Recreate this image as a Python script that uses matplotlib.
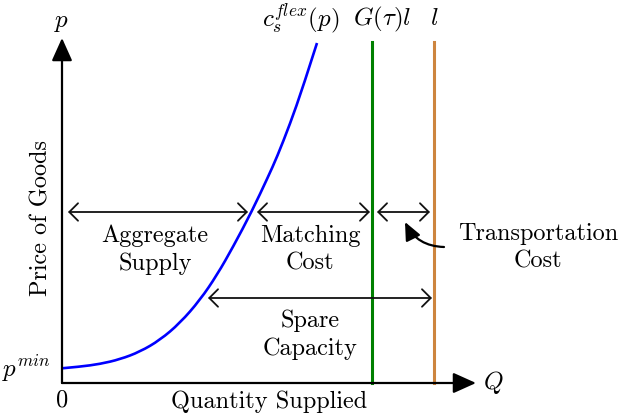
import matplotlib
matplotlib.use("Agg")
import matplotlib.pyplot as plt
from matplotlib.path import Path
from matplotlib.patches import PathPatch

plt.rcParams["font.family"] = "serif"
plt.rcParams["font.serif"] = ["cmr10"]
plt.rcParams["mathtext.fontset"] = "cm"
plt.rcParams["axes.unicode_minus"] = False

# supply curve c_s^flex(p): quantity vs price (diagram units)
supply_q = [0, 18, 38, 58, 78, 98, 118, 138, 155, 171, 190, 206, 215, 228, 241, 255]
supply_p = [14.7, 16.3, 19, 23.7, 31.3, 43, 60, 83, 108, 136, 172, 206, 226, 259, 296, 340]

# capacity levels along the quantity axis
matched_capacity = 310   # G(tau) l
total_capacity = 372     # l
line_top = 341

price_level = 171        # price where the cost brackets are drawn
spare_level = 85         # price for the spare capacity bracket
spare_start = 146        # supply at spare_level

axis_q_end = 414
axis_p_end = 345


def smooth_path(xs, ys):
    # quadratic bezier through segment midpoints, using the points as controls
    verts = [(xs[0], ys[0])]
    codes = [Path.MOVETO]
    for i in range(1, len(xs) - 1):
        mx = (xs[i] + xs[i + 1]) / 2
        my = (ys[i] + ys[i + 1]) / 2
        if i == len(xs) - 2:
            mx, my = xs[-1], ys[-1]
        verts += [(xs[i], ys[i]), (mx, my)]
        codes += [Path.CURVE3, Path.CURVE3]
    return Path(verts, codes)


fig = plt.figure(figsize=(6.18, 4.17), dpi=100)
ax = fig.add_axes([0, 0, 1, 1])
ax.set_xlim(-62, 556)
ax.set_ylim(-34, 383)
ax.axis("off")

FS = 17.5
MFS = 18

# axes with filled arrow heads
axis_style = dict(arrowstyle="-|>,head_length=1.0,head_width=0.45", color="black",
                  lw=1.6, shrinkA=0, shrinkB=0, mutation_scale=14)
ax.annotate("", xy=(0, axis_p_end), xytext=(0, 0), arrowprops=axis_style)
ax.annotate("", xy=(axis_q_end, 0), xytext=(0, 0), arrowprops=axis_style)

# supply curve and capacity lines
ax.add_patch(PathPatch(smooth_path(supply_q, supply_p), facecolor="none",
                       edgecolor="#0000ff", lw=1.9, capstyle="butt"))
ax.plot([matched_capacity, matched_capacity], [0, line_top], color="#008000", lw=2.2)
ax.plot([total_capacity, total_capacity], [0, line_top], color="#cd853f", lw=2.2)

# double-headed brackets
br = dict(arrowstyle="<->,head_length=0.45,head_width=0.45", color="#111111",
          lw=1.3, shrinkA=0, shrinkB=0, mutation_scale=14)
ax.annotate("", xy=(6, price_level), xytext=(186, price_level), arrowprops=br)
ax.annotate("", xy=(195, price_level), xytext=(308, price_level), arrowprops=br)
ax.annotate("", xy=(315, price_level), xytext=(368, price_level), arrowprops=br)
ax.annotate("", xy=(spare_start, spare_level), xytext=(370, spare_level), arrowprops=br)

# pointer to the transportation bracket
ax.annotate("", xy=(343, 161), xytext=(382, 136),
            arrowprops=dict(arrowstyle="-|>,head_length=0.9,head_width=0.4",
                            color="black", lw=1.6, shrinkA=0, shrinkB=0,
                            mutation_scale=12, connectionstyle="arc3,rad=-0.3"))

# region labels
ax.text(93, 133, "Aggregate\nSupply", ha="center", va="center", fontsize=FS, linespacing=1.3)
ax.text(248, 133, "Matching\nCost", ha="center", va="center", fontsize=FS, linespacing=1.3)
ax.text(476, 135, "Transportation\nCost", ha="center", va="center", fontsize=FS, linespacing=1.3)
ax.text(248, 48, "Spare\nCapacity", ha="center", va="center", fontsize=FS, linespacing=1.3)

# curve and line labels
ax.text(239, 364, r"$c_s^{flex}(p)$", ha="center", va="center", fontsize=MFS)
ax.text(320, 364, r"$G(\tau)l$", ha="center", va="center", fontsize=MFS)
ax.text(372, 364, r"$l$", ha="center", va="center", fontsize=MFS)

# axis labels
ax.text(0, 360, r"$p$", ha="center", va="center", fontsize=MFS)
ax.text(431, 0, r"$Q$", ha="center", va="center", fontsize=MFS)
ax.text(0, -17, "0", ha="center", va="center", fontsize=FS)
ax.text(-36, 14, r"$p^{min}$", ha="center", va="center", fontsize=MFS)
ax.text(207, -19, "Quantity Supplied", ha="center", va="center", fontsize=FS)
ax.text(-21, 165, "Price of Goods", ha="center", va="center", rotation=90, fontsize=FS)

fig.savefig("out.png", dpi=100)
